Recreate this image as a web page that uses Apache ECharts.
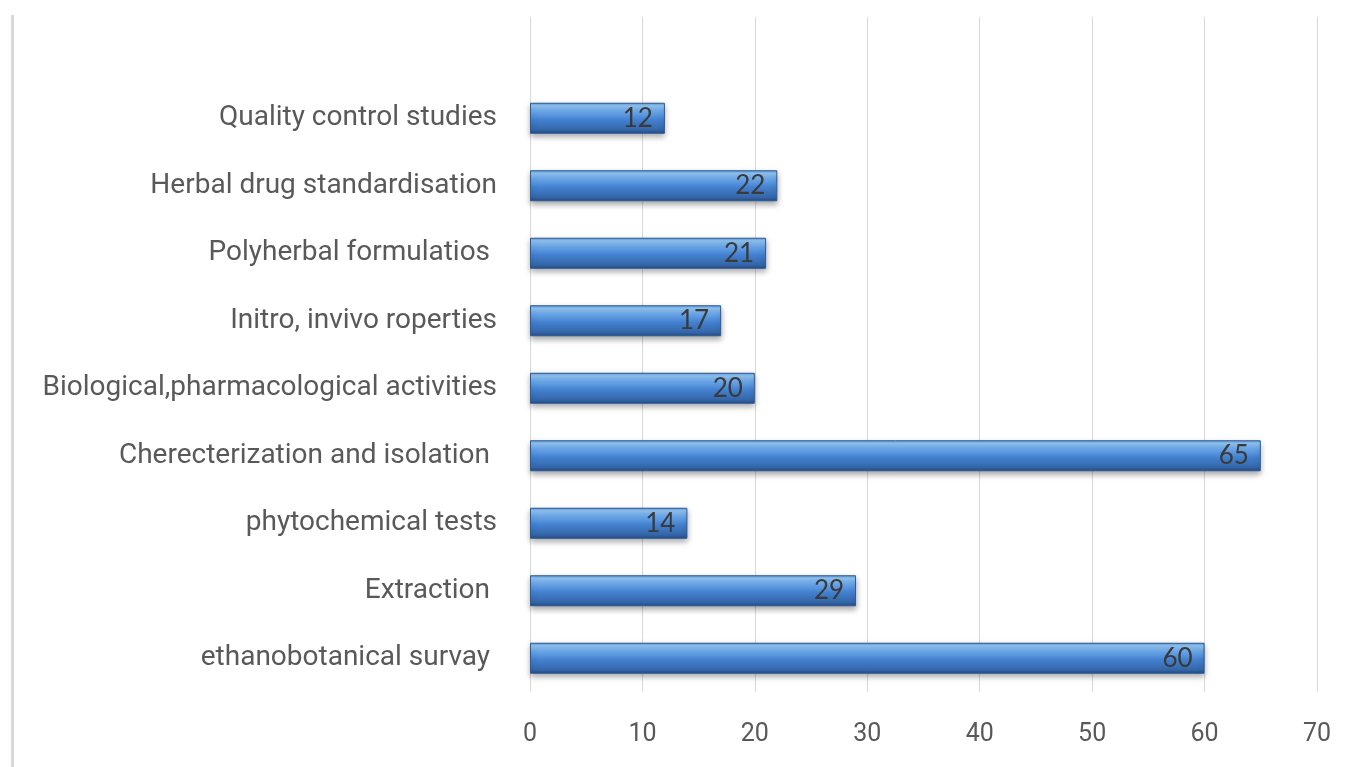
<!DOCTYPE html>
<html>
<head>
<meta charset="utf-8">
<script src="https://cdn.jsdelivr.net/npm/echarts@6/dist/echarts.min.js"></script>
<style>
  html, body { margin: 0; padding: 0; background: #fff; }
  #chart { width: 1360px; height: 767px; }
</style>
</head>
<body>
<div id="chart"></div>
<script>
// top to bottom, empty slot at top like the original plot area
const categories = [
  "",
  "Quality control studies",
  "Herbal drug standardisation",
  "Polyherbal formulatios ",
  "Initro, invivo roperties",
  "Biological,pharmacological activities",
  "Cherecterization and isolation ",
  "phytochemical tests",
  "Extraction ",
  "ethanobotanical survay "
];
const counts = [null, 12, 22, 21, 17, 20, 65, 14, 29, 60];
const xTicks = [0, 10, 20, 30, 40, 50, 60, 70];

const myChart = echarts.init(document.getElementById("chart"));

const barColor = new echarts.graphic.LinearGradient(0, 0, 0, 1, [
  { offset: 0, color: "#5a98dd" },
  { offset: 0.1, color: "#92c6f4" },
  { offset: 0.28, color: "#6aa6e8" },
  { offset: 0.55, color: "#4381d0" },
  { offset: 0.88, color: "#3466a8" },
  { offset: 1, color: "#234a80" }
]);

let option = {
  animation: false,
  grid: { left: 530, right: 43, top: 17, bottom: 75 },
  xAxis: {
    type: "value",
    min: xTicks[0],
    max: xTicks[xTicks.length - 1],
    interval: 10,
    axisLine: { show: false },
    axisTick: { show: false },
    splitLine: { lineStyle: { color: "#d9d9d9", width: 1 } },
    axisLabel: {
      margin: 30,
      color: "#595959",
      fontFamily: "Liberation Sans Narrow, Roboto, sans-serif",
      fontSize: 25
    }
  },
  yAxis: {
    type: "category",
    inverse: true,
    data: categories,
    axisLine: { show: false },
    axisTick: { show: false },
    axisLabel: {
      margin: 33,
      color: "#595959",
      fontFamily: "Liberation Sans Narrow, Roboto, sans-serif",
      fontSize: 28
    }
  },
  series: [
    {
      type: "bar",
      data: counts,
      barWidth: 31,
      itemStyle: {
        color: barColor,
        borderColor: "#2c5a96",
        borderWidth: 1,
        shadowColor: "rgba(0,0,0,0.35)",
        shadowBlur: 6,
        shadowOffsetY: 3
      },
      label: {
        show: true,
        position: "insideRight",
        distance: 12,
        color: "#3a3a3a",
        fontFamily: "Lato, Open Sans, sans-serif",
        fontSize: 26
      }
    }
  ],
  graphic: [
    {
      type: "rect",
      left: 11,
      top: 15,
      shape: { width: 3, height: 752 },
      style: { fill: "#d9d9d9" }
    }
  ]
};
myChart.setOption(option);
</script>
</body>
</html>
